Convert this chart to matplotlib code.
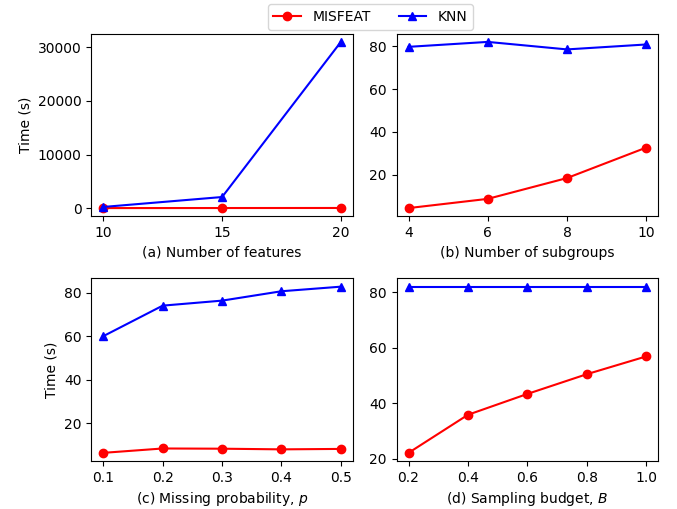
import matplotlib
matplotlib.use("Agg")
import matplotlib.pyplot as plt

# (a) number of features
feat_x = [10, 15, 20]
feat_misfeat = [40, 50, 60]
feat_knn = [250, 2100, 31000]

# (b) number of subgroups
sub_x = [4, 6, 8, 10]
sub_misfeat = [4.5, 8.8, 18.5, 32.7]
sub_knn = [79.7, 82.0, 78.5, 80.8]

# (c) missing probability
prob_x = [0.1, 0.2, 0.3, 0.4, 0.5]
prob_misfeat = [6.5, 8.5, 8.4, 8.1, 8.3]
prob_knn = [60.0, 74.0, 76.3, 80.6, 82.7]

# (d) sampling budget
bud_x = [0.2, 0.4, 0.6, 0.8, 1.0]
bud_misfeat = [22.2, 35.9, 43.4, 50.5, 56.9]
bud_knn = [82.0, 82.0, 82.0, 82.0, 82.0]

fig, axs = plt.subplots(2, 2, figsize=(6.77, 5.09), dpi=100)
plt.subplots_adjust(left=0.135, right=0.972, top=0.934, bottom=0.094,
                    wspace=0.168, hspace=0.339)

panels = [
    (axs[0, 0], feat_x, feat_misfeat, feat_knn, "(a) Number of features"),
    (axs[0, 1], sub_x, sub_misfeat, sub_knn, "(b) Number of subgroups"),
    (axs[1, 0], prob_x, prob_misfeat, prob_knn, "(c) Missing probability, $p$"),
    (axs[1, 1], bud_x, bud_misfeat, bud_knn, "(d) Sampling budget, $B$"),
]

for ax, x, mis, knn, lab in panels:
    ax.plot(x, mis, color="red", marker="o", label="MISFEAT")
    ax.plot(x, knn, color="blue", marker="^", label="KNN")
    ax.set_xlabel(lab)
    ax.set_xticks(x)

axs[0, 1].set_yticks([20, 40, 60, 80])
axs[1, 0].set_yticks([20, 40, 60, 80])
axs[1, 1].set_yticks([20, 40, 60, 80])
axs[0, 0].set_ylabel("Time (s)")
axs[1, 0].set_ylabel("Time (s)")

handles, labels = axs[0, 0].get_legend_handles_labels()
fig.legend(handles, labels, loc="upper center", ncol=2, bbox_to_anchor=(0.547, 1.005))

plt.savefig("out.png", dpi=100)
